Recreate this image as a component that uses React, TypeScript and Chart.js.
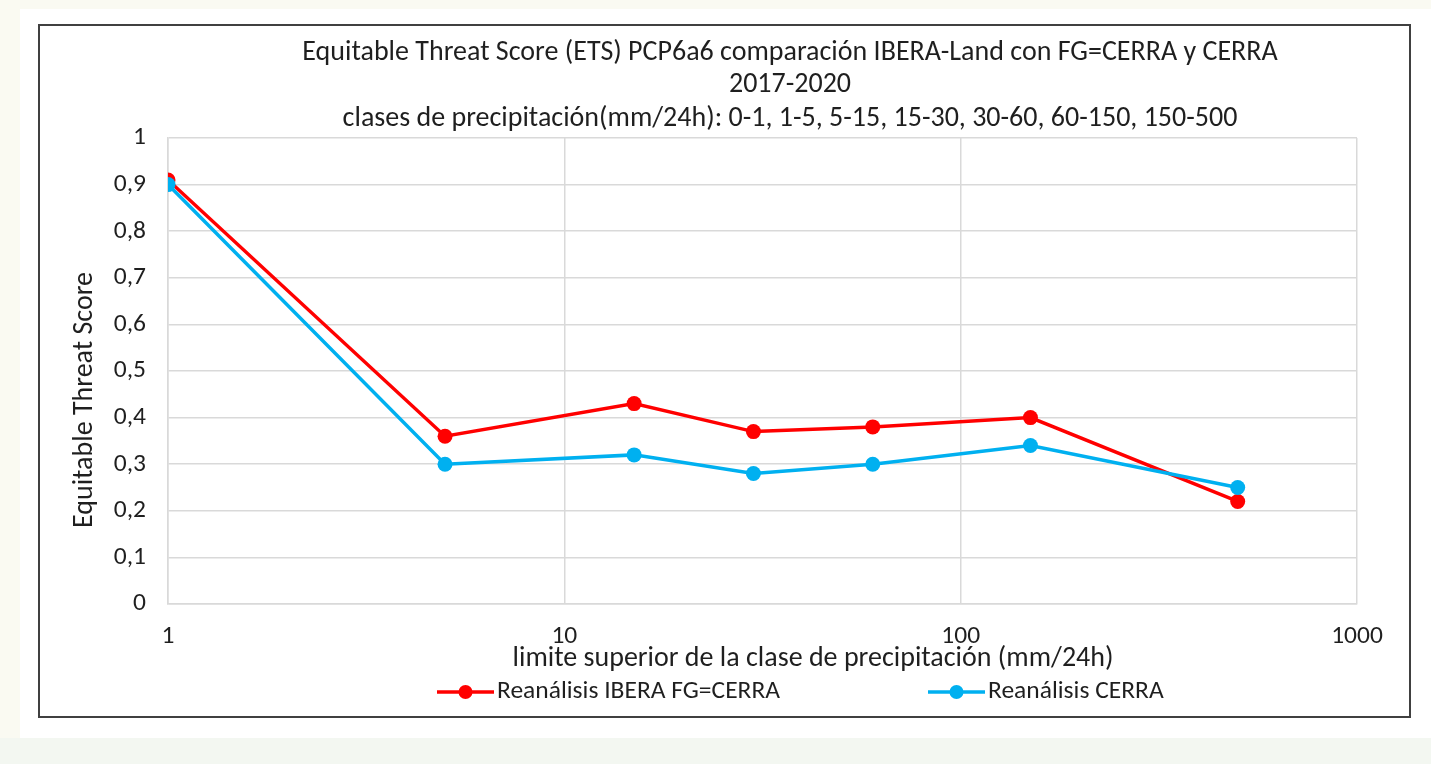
import React, { useEffect, useRef } from 'react';
import { Chart, registerables } from 'chart.js';

Chart.register(...registerables);

// ---- data ----
const upperLimits = [1, 5, 15, 30, 60, 150, 500];
const iberaFG = [0.91, 0.36, 0.43, 0.37, 0.38, 0.4, 0.22];
const cerra = [0.9, 0.3, 0.32, 0.28, 0.3, 0.34, 0.25];
const xTickValues = [1, 10, 100, 1000];
const seriesLabels = ['Reanálisis IBERA FG=CERRA', 'Reanálisis CERRA'];
const titleLines = [
  'Equitable Threat Score (ETS) PCP6a6 comparación IBERA-Land con FG=CERRA y CERRA',
  '2017-2020',
  'clases de precipitación(mm/24h): 0-1, 1-5, 5-15, 15-30, 30-60, 60-150, 150-500',
];
const xAxisTitle = 'limite superior de la clase de precipitación (mm/24h)';
const yAxisTitle = 'Equitable Threat Score';

const RED = '#ff0000';
const BLUE = '#00b0f0';
const FONT = 'Carlito, Lato, sans-serif';
const TEXT = '#1f1f1f';

const textPlugin = {
  id: 'textPlugin',
  afterDraw(chart: any) {
    const ctx = chart.ctx as CanvasRenderingContext2D;
    ctx.save();
    ctx.fillStyle = TEXT;
    ctx.textAlign = 'center';
    ctx.textBaseline = 'middle';
    ctx.font = `28px ${FONT}`;
    const tys = [27, 59, 93];
    titleLines.forEach((t, i) => ctx.fillText(t, 750, tys[i]));
    ctx.fillText(xAxisTitle, 773, 633);
    ctx.save();
    ctx.translate(45, 374);
    ctx.rotate(-Math.PI / 2);
    ctx.fillText(yAxisTitle, 0, 0);
    ctx.restore();
    // legend
    const items = chart.data.datasets.map((d: any, i: number) => ({
      text: d.label,
      color: d.borderColor,
      x: i === 0 ? 397 : 888,
    }));
    const ly = 666;
    ctx.font = `25.5px ${FONT}`;
    ctx.textAlign = 'left';
    items.forEach((it: any) => {
      ctx.strokeStyle = it.color;
      ctx.lineWidth = 3.5;
      ctx.beginPath();
      ctx.moveTo(it.x, ly);
      ctx.lineTo(it.x + 57, ly);
      ctx.stroke();
      ctx.fillStyle = it.color;
      ctx.beginPath();
      ctx.arc(it.x + 28.5, ly, 7, 0, Math.PI * 2);
      ctx.fill();
      ctx.fillStyle = TEXT;
      ctx.fillText(it.text, it.x + 60, ly);
    });
    ctx.restore();
  },
};

function ChartView() {
  const ref = useRef<HTMLCanvasElement | null>(null);
  useEffect(() => {
    if (!ref.current) return;
    const mk = (vals: number[]) => upperLimits.map((x, i) => ({ x, y: vals[i] }));
    const chart = new Chart(ref.current, {
      type: 'line',
      data: {
        datasets: [
          {
            label: seriesLabels[0],
            data: mk(iberaFG),
            borderColor: RED,
            backgroundColor: RED,
            pointBackgroundColor: RED,
            pointBorderColor: RED,
            borderWidth: 3.5,
            pointRadius: 7.5,
            pointBorderWidth: 0,
            order: 2,
            tension: 0,
          },
          {
            label: seriesLabels[1],
            data: mk(cerra),
            borderColor: BLUE,
            backgroundColor: BLUE,
            pointBackgroundColor: BLUE,
            pointBorderColor: BLUE,
            borderWidth: 3.5,
            pointRadius: 7.5,
            pointBorderWidth: 0,
            order: 1,
            tension: 0,
          },
        ],
      },
      options: {
        animation: false,
        responsive: false,
        maintainAspectRatio: false,
        layout: { padding: { left: 48, right: 52, top: 112, bottom: 62 } },
        plugins: {
          legend: { display: false },
          title: { display: false },
          tooltip: { enabled: false },
        },
        scales: {
          x: {
            type: 'logarithmic',
            min: 1,
            max: 1000,
            afterBuildTicks: (scale: any) => {
              scale.ticks = xTickValues.map((v) => ({ value: v }));
            },
            afterFit: (scale: any) => {
              scale.height = 50;
            },
            ticks: {
              autoSkip: false,
              maxRotation: 0,
              padding: 17,
              color: TEXT,
              font: { family: FONT, size: 25.5 },
              callback: (v: any) => String(v),
            },
            grid: { color: '#d9d9d9', lineWidth: 1.5, drawTicks: false },
            border: { color: '#d9d9d9', width: 1.5 },
          },
          y: {
            min: 0,
            max: 1,
            afterFit: (scale: any) => {
              scale.width = 80;
            },
            ticks: {
              stepSize: 0.1,
              padding: 22,
              color: TEXT,
              font: { family: FONT, size: 25.5 },
              callback: (v: any) => (Math.round(Number(v) * 10) / 10).toString().replace('.', ','),
            },
            grid: { color: '#d9d9d9', lineWidth: 1.5, drawTicks: false },
            border: { color: '#d9d9d9', width: 1.5 },
          },
        },
      },
      plugins: [textPlugin],
    });
    return () => chart.destroy();
  }, []);
  return <canvas ref={ref} width={1369} height={690} style={{ display: 'block', width: 1369, height: 690 }} />;
}

export default function App() {
  return (
    <div style={{ position: 'fixed', left: 0, top: 0, width: 1431, height: 764, background: '#fafaf2', overflow: 'hidden' }}>
      <div style={{ position: 'absolute', left: 0, top: 738, width: 1431, height: 26, background: '#f3f7f1' }} />
      <div style={{ position: 'absolute', left: 20, top: 9, width: 1411, height: 729, background: '#ffffff' }} />
      <div
        style={{
          position: 'absolute',
          left: 38,
          top: 24,
          width: 1373,
          height: 694,
          boxSizing: 'border-box',
          border: '2px solid #404040',
          background: '#ffffff',
        }}
      >
        <ChartView />
      </div>
    </div>
  );
}
